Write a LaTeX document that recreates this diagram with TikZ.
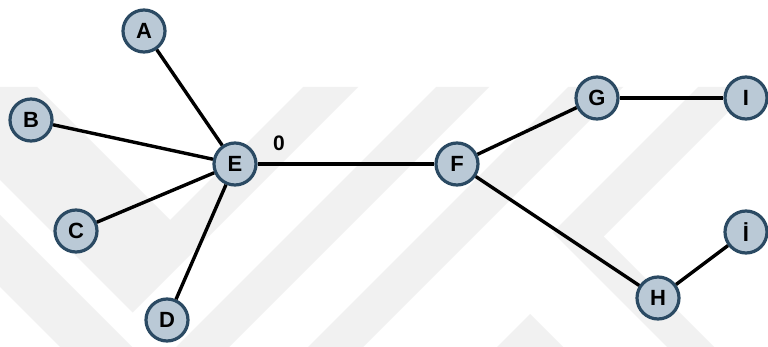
\documentclass[tikz,border=0pt]{standalone}
\usepackage{fontspec}
\setmainfont{Liberation Sans}
\definecolor{nodefill}{HTML}{BAC9D6}
\definecolor{nodeline}{HTML}{2B4A63}
\definecolor{wm}{HTML}{F1F1F1}
\tikzset{
  vertex/.style={circle, draw=nodeline, fill=nodefill, line width=3.2pt,
    minimum size=42pt, inner sep=0pt, font=\fontsize{22}{26}\selectfont\bfseries},
  edge/.style={line width=3.4pt, black},
  wmark/.style={fill=wm, draw=none}
}
\begin{document}
\begin{tikzpicture}[x=1pt,y=-1pt]
\useasboundingbox (0,0) rectangle (768,347);
\fill[white] (0,0) rectangle (768,347);
% watermark
\begin{scope}
\clip (0,87) rectangle (768,347);
\fill[wmark] (37,87) -- (170,220) -- (303,87) -- (358,87) -- (132.5,312.5) -- (0,180) -- (0,87) -- cycle;
\fill[wmark] (0,215) -- (90,305) -- (132,347) -- (60,347) -- (0,287) -- cycle;
\fill[wmark] (436,87) -- (489,87) -- (229,347) -- (176,347) -- cycle;
\fill[wmark] (568,87) -- (623,87) -- (363,347) -- (308,347) -- cycle;
\fill[wmark] (698,87) -- (753,87) -- (603.5,236.5) -- (714,347) -- (667,347) -- (552.5,232.5) -- cycle;
\fill[wmark] (497,347) -- (530,314) -- (563,347) -- cycle;
\end{scope}
% nodes
\node[vertex] (A) at (144,31) {A};
\node[vertex] (B) at (31,120) {B};
\node[vertex] (C) at (76,231) {C};
\node[vertex] (D) at (167,320) {D};
\node[vertex] (E) at (235,164) {E};
\node[vertex] (F) at (457,164) {F};
\node[vertex] (G) at (597,98) {G};
\node[vertex] (I) at (746,98) {I};
\node[vertex] (H) at (658,298) {H};
\node[vertex] (J) at (746,232) {İ};
\node[font=\fontsize{21}{25}\selectfont\bfseries] (lab0) at (279,143) {0};
% edges
\draw[edge] (A) -- (E);
\draw[edge] (B) -- (E);
\draw[edge] (C) -- (E);
\draw[edge] (D) -- (E);
\draw[edge] (E) -- (F);
\draw[edge] (F) -- (G);
\draw[edge] (G) -- (I);
\draw[edge] (F) -- (H);
\draw[edge] (H) -- (J);
\end{tikzpicture}
\end{document}
